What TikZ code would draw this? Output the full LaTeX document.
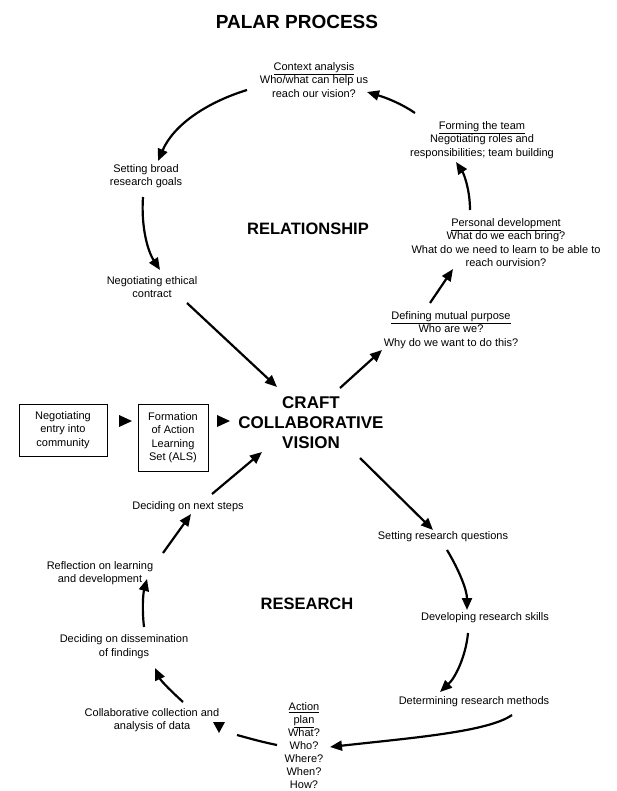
\documentclass[tikz,border=0pt]{standalone}
\usepackage{fontspec}
\setmainfont{Liberation Sans}
\usetikzlibrary{arrows.meta}
\tikzset{
  lbl/.style={align=center, inner sep=0pt, font=\fontsize{11}{13.4}\selectfont},
  big/.style={align=center, inner sep=0pt, font=\bfseries\fontsize{16.5}{20}\selectfont},
  boxed/.style={lbl, draw, line width=0.8pt, inner sep=0pt},
  arr/.style={line width=2.2pt, -{Triangle[length=12pt,width=10pt]}},
  plain/.style={line width=2.2pt},
  tri/.style={fill=black, draw=none}
}
\begin{document}
\begin{tikzpicture}[x=1pt,y=-1pt]
\useasboundingbox (0,0) rectangle (617,791);
\fill[white] (0,0) rectangle (617,791);

% titles
\node[big, font=\bfseries\fontsize{19}{22}\selectfont] (title) at (297,22) {PALAR PROCESS};
\node[big] (rel) at (308,229) {RELATIONSHIP};
\node[big] (res) at (307,604) {RESEARCH};
\node[big, font=\bfseries\fontsize{17}{20}\selectfont] (craft) at (311,423) {CRAFT\\COLLABORATIVE\\VISION};

% relationship cycle
\node[lbl] (ctx) at (314,80) {\underline{Context analysis}\\Who/what can help us\\reach our vision?};
\node[lbl] (team) at (482,140) {\underline{Forming the team}\\Negotiating roles and\\responsibilities; team building};
\node[lbl] (pers) at (506,242.5) {\underline{Personal development}\\What do we each bring?\\What do we need to learn to be able to\\reach ourvision?};
\node[lbl] (mutual) at (451,330) {\underline{Defining mutual purpose}\\Who are we?\\Why do we want to do this?};
\node[lbl] (broad) at (146,176) {Setting broad\\research goals};
\node[lbl] (ethic) at (152,287) {Negotiating ethical\\contract};

% entry boxes
\node[boxed, minimum width=88, minimum height=52] (entry) at (63,430) {Negotiating\\entry into\\community};
\node[boxed, minimum width=70, minimum height=67] (als) at (173,437.5) {Formation\\of Action\\Learning\\Set (ALS)};
\fill[tri] (119,415) -- (132,421) -- (119,427) -- cycle;
\fill[tri] (217,415) -- (230,421) -- (217,427) -- cycle;

% research cycle
\node[lbl] (setq) at (443,537) {Setting research questions};
\node[lbl] (dev) at (485,618) {Developing research skills};
\node[lbl] (meth) at (474,702) {Determining research methods};
\node[lbl, font=\fontsize{11}{13}\selectfont] (action) at (304,745.5) {\underline{Action}\\\underline{plan}\\What?\\Who?\\Where?\\When?\\How?};
\node[lbl] (collab) at (152,720) {Collaborative collection and\\analysis of data};
\node[lbl] (dissem) at (124,646.5) {Deciding on dissemination\\of findings};
\node[lbl] (refl) at (100,573) {Reflection on learning\\and development};
\node[lbl] (next) at (188,507) {Deciding on next steps};
\fill[tri] (213,722) -- (225,722) -- (219,733) -- cycle;

% connector end points
\coordinate (ctx-o) at (247,90);   \coordinate (broad-i) at (158,161);
\coordinate (broad-o) at (143,197); \coordinate (ethic-i) at (160,270);
\coordinate (ethic-o) at (187,303); \coordinate (craft-nw) at (277,387);
\coordinate (craft-ne) at (340,388); \coordinate (mutual-i) at (382,350);
\coordinate (mutual-o) at (430,303); \coordinate (pers-i) at (453,269);
\coordinate (pers-o) at (470,210); \coordinate (team-i) at (456,162);
\coordinate (team-o) at (415,113); \coordinate (ctx-i) at (367,92);
\coordinate (craft-se) at (360,458); \coordinate (setq-i) at (433,530);
\coordinate (setq-o) at (447,550); \coordinate (dev-i) at (467,610);
\coordinate (dev-o) at (468,633); \coordinate (meth-i) at (440,692);
\coordinate (meth-o) at (512,715); \coordinate (action-i) at (330,747);
\coordinate (action-o) at (277,745); \coordinate (collab-i) at (237,735);
\coordinate (collab-o) at (183,702); \coordinate (dissem-i) at (155,668);
\coordinate (dissem-o) at (144,627); \coordinate (refl-i) at (147,579);
\coordinate (refl-o) at (163,553); \coordinate (next-i) at (191,514);
\coordinate (next-o) at (212,494); \coordinate (craft-sw) at (262,452);

% connectors
\draw[arr] (ctx-o) .. controls (208,102) and (174,124) .. (broad-i);
\draw[arr] (broad-o) .. controls (141,225) and (147,250) .. (ethic-i);
\draw[arr] (ethic-o) -- (craft-nw);
\draw[arr] (craft-ne) -- (mutual-i);
\draw[arr] (mutual-o) -- (pers-i);
\draw[arr] (pers-o) .. controls (470,190) and (464,174) .. (team-i);
\draw[arr] (team-o) .. controls (402,104) and (387,98) .. (ctx-i);
\draw[arr] (craft-se) -- (setq-i);
\draw[arr] (setq-o) .. controls (459,570) and (467,590) .. (dev-i);
\draw[arr] (dev-o) .. controls (466,655) and (456,677) .. (meth-i);
\draw[arr] (meth-o) .. controls (488,732) and (410,738) .. (action-i);
\draw[plain] (action-o) .. controls (262,742) and (248,738) .. (collab-i);
\draw[arr] (collab-o) .. controls (172,692) and (161,681) .. (dissem-i);
\draw[arr] (dissem-o) .. controls (142,610) and (143,594) .. (refl-i);
\draw[arr] (refl-o) -- (next-i);
\draw[arr] (next-o) -- (craft-sw);
\end{tikzpicture}
\end{document}
